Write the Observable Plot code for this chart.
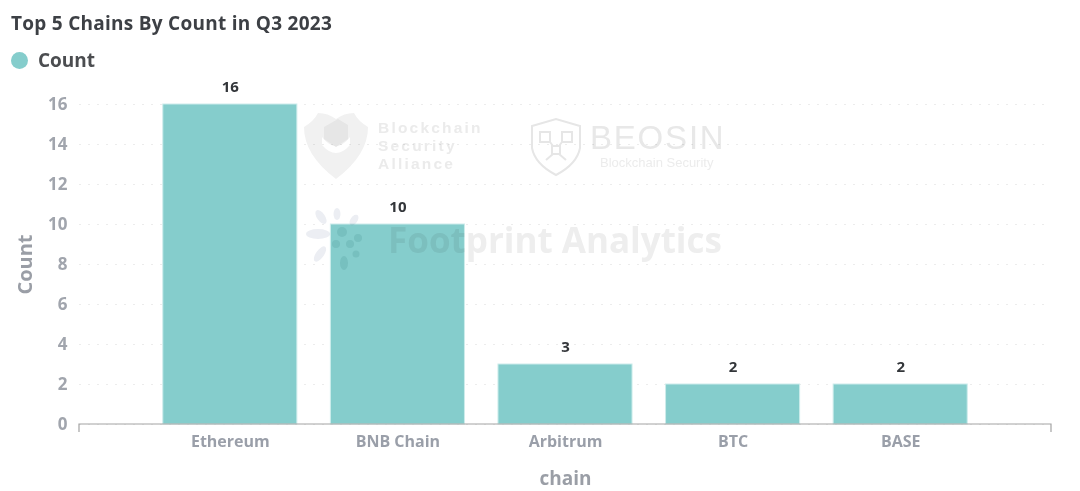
<!DOCTYPE html>
<html>
<head>
<meta charset="utf-8">
<script src="https://cdn.jsdelivr.net/npm/d3@7"></script>
<script src="https://cdn.jsdelivr.net/npm/@observablehq/plot@0.6"></script>
<style>
html,body{margin:0;padding:0;background:#fff;width:1080px;height:491px;overflow:hidden;font-family:"Open Sans",sans-serif}
#wrap{position:relative;width:1080px;height:491px}
#title{position:absolute;left:11px;top:10px;font-size:19px;line-height:26px;font-weight:700;letter-spacing:.27px;color:#3d4045;white-space:nowrap}
#legend{position:absolute;left:11px;top:48px;height:24px;display:flex;align-items:center;font-size:19px;font-weight:700;color:#4b4d50}
#legend i{display:block;width:17px;height:17px;border-radius:50%;background:#85cdcc;margin-right:10px}
#chart{position:absolute;left:0;top:76px}
#chart svg{display:block}
.wm{position:absolute;pointer-events:none;white-space:nowrap;mix-blend-mode:multiply}
.bsa{font:700 15.5px/18px "Liberation Sans",sans-serif;letter-spacing:2.2px;color:#ebebeb}
</style>
</head>
<body>
<div id="wrap">
  <div id="title">Top 5 Chains By Count in Q3 2023</div>
  <div id="legend"><i></i><span>Count</span></div>
  <div id="chart"></div>

  <svg class="wm" style="left:302px;top:111px" width="68" height="70" viewBox="0 0 68 70">
    <path d="M2 16 Q12 10 16 2 Q26 2 34 8 Q42 2 52 2 Q56 10 66 16 Q66 44 34 68 Q2 44 2 16 Z" fill="#f1f1f1"/>
    <path d="M20 26 Q34 44 48 26 L48 34 Q34 50 20 34 Z" fill="#ffffff"/>
    <path d="M22 16 L36 8 L46 14 L46 28 L34 36 L22 28 Z" fill="#e6e6e6"/>
  </svg>
  <div class="wm bsa" style="left:378px;top:119px">Blockchain</div>
  <div class="wm bsa" style="left:378px;top:137px">Security</div>
  <div class="wm bsa" style="left:378px;top:155px">Alliance</div>

  <svg class="wm" style="left:529px;top:116px" width="54" height="62" viewBox="0 0 54 62">
    <path d="M3 10 L27 3 L51 10 L51 32 Q48 48 27 59 Q6 48 3 32 Z" fill="none" stroke="#e6e6e6" stroke-width="2"/>
    <g fill="none" stroke="#e6e6e6" stroke-width="2">
      <rect x="11" y="16" width="10" height="10"/><rect x="33" y="16" width="10" height="10"/>
      <rect x="23" y="30" width="8" height="8"/>
      <path d="M21 26 L24 30 M33 26 L30 30 M24 38 L17 44 M30 38 L37 44"/>
    </g>
  </svg>
  <div class="wm" style="left:590px;top:121px;font:400 33px/34px 'Liberation Sans',sans-serif;letter-spacing:1.8px;color:#e8e8e8">BEOSIN</div>
  <div class="wm" style="left:600px;top:156px;font:400 13px/14px 'Liberation Sans',sans-serif;color:#ececec">Blockchain Security</div>

  <svg class="wm" style="left:304px;top:208px" width="74" height="64" viewBox="0 0 74 64">
    <g fill="#eceef3">
      <ellipse cx="14" cy="26" rx="12" ry="5"/>
      <ellipse cx="17" cy="9" rx="4" ry="8" transform="rotate(-35 17 9)"/>
      <ellipse cx="33" cy="6" rx="3.5" ry="6"/>
      <ellipse cx="50" cy="12" rx="3.5" ry="6" transform="rotate(35 50 12)"/>
      <ellipse cx="16" cy="46" rx="4" ry="9" transform="rotate(35 16 46)"/>
    </g>
    <g fill="#e4efef">
      <circle cx="38" cy="24" r="5"/><circle cx="54" cy="30" r="4"/>
      <circle cx="32" cy="36" r="4"/><circle cx="46" cy="36" r="4"/><circle cx="52" cy="46" r="3.5"/>
      <ellipse cx="40" cy="55" rx="4" ry="7"/>
    </g>
  </svg>
  <div class="wm" style="left:388px;top:219px;font:700 35px/42px 'Open Sans',sans-serif;color:#eeeeee">Footprint Analytics</div>
</div>
<script>
const chains = ["Ethereum", "BNB Chain", "Arbitrum", "BTC", "BASE"];
const counts = [16, 10, 3, 2, 2];
const yTicks = [0, 2, 4, 6, 8, 10, 12, 14, 16];
const rows = chains.map((chain, i) => ({chain, count: counts[i]}));

const tickGray = "#a1a5ad";

// x axis line with end ticks, drawn from the frame of the plot
const endTicks = (index, scales, values, dims) => {
  const y = dims.height - dims.marginBottom;
  const l = dims.marginLeft, r = dims.width - dims.marginRight;
  const p = d3.create("svg:path")
    .attr("d", `M${l},${y + 8}V${y}H${r}V${y + 8}`)
    .attr("fill", "none").attr("stroke", "#a3a3a3").attr("stroke-width", 1.2);
  return p.node();
};

const plot = Plot.plot({
  width: 1080,
  height: 415,
  marginLeft: 79,
  marginRight: 29,
  marginTop: 28,
  marginBottom: 67,
  style: {background: "transparent", fontFamily: "'Open Sans',sans-serif"},
  x: {domain: chains, paddingInner: 0.2, paddingOuter: 0.5, align: 0.5, round: false, label: null},
  y: {domain: [0, 16], label: null},
  marks: [
    Plot.gridY(yTicks, {stroke: "#ececec", strokeOpacity: 1, strokeDasharray: "2 7"}),
    Plot.barY(rows, {x: "chain", y: "count", fill: "#85cdcc", stroke: "#cdeceb", strokeWidth: 1}),
    endTicks,
    Plot.axisY({ticks: yTicks, tickSize: 0, tickPadding: 12, fontSize: 17, fontWeight: 700, color: tickGray, label: null, textAnchor: "end"}),
    Plot.axisX({tickSize: 0, tickPadding: 11, fontSize: 16, fontWeight: 700, color: "#9a9fa9", label: null}),
    Plot.text(rows, {x: "chain", y: "count", text: d => String(d.count), dy: -17, fontSize: 15, fontWeight: 700, fill: "#33363a"}),
    Plot.text(["Count"], {frameAnchor: "left", textAnchor: "middle", dx: -54, rotate: -90, fontSize: 20, fontWeight: 700, fill: "#9a9ea6"}),
    Plot.text(["chain"], {frameAnchor: "bottom", dy: 60, fontSize: 19, fontWeight: 700, fill: "#9a9ea6"})
  ]
});
document.getElementById("chart").append(plot);
</script>
</body>
</html>
